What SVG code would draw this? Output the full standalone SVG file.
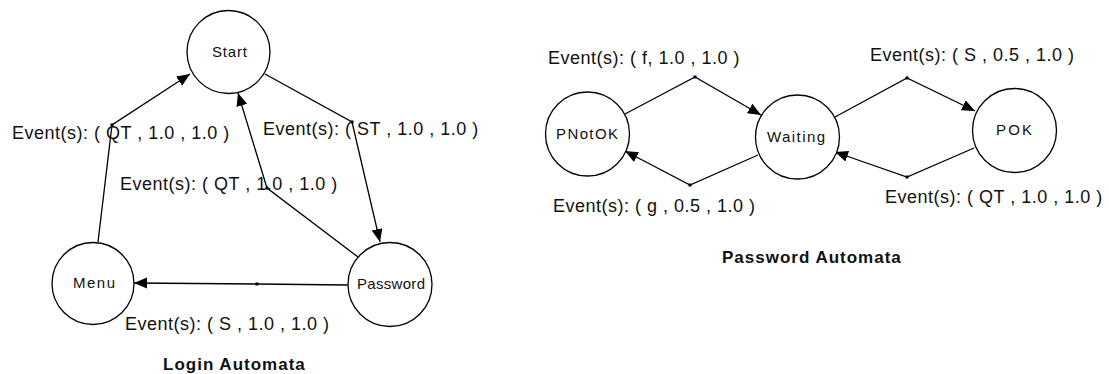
<svg xmlns="http://www.w3.org/2000/svg" width="1109" height="374" viewBox="0 0 1109 374">
<style>
.node{fill:#fff;stroke:#000;stroke-width:1.3}
.nlabel{font-family:"Liberation Sans",Arial,sans-serif;font-size:15px;fill:#111}
.edge{fill:none;stroke:#000;stroke-width:1.3;marker-end:url(#arr);marker-mid:url(#dot)}
.elabel{font-family:"Liberation Sans",Arial,sans-serif;font-size:18px;letter-spacing:0.5px;fill:#111}
.title{font-family:"Liberation Sans",Arial,sans-serif;font-size:17px;font-weight:bold;letter-spacing:1px;fill:#111}
</style>
<defs>
<marker id="arr" markerUnits="userSpaceOnUse" markerWidth="14" markerHeight="12" refX="13" refY="5.5" orient="auto">
<path d="M0,0 L13,5.5 L0,11 z" fill="#000"/>
</marker>
<marker id="dot" markerUnits="userSpaceOnUse" markerWidth="4" markerHeight="4" refX="2" refY="2">
<rect x="0.5" y="0.5" width="3" height="3" fill="#000"/>
</marker>
</defs>
<rect width="1109" height="374" fill="#fff"/>
<g id="connectors">
<polyline class="edge" points="98,242 112,125 190,74"/>
<polyline class="edge" points="265,74 352,122 380,242"/>
<polyline class="edge" points="358,257 267,188 238,93"/>
<polyline class="edge" points="348,285 257,284 134,283"/>
<polyline class="edge" points="625,114 695,77 761,115"/>
<polyline class="edge" points="758,155 690,185 625,151"/>
<polyline class="edge" points="835,117 907,78 975,111"/>
<polyline class="edge" points="974,148 907,177 835,152"/>
</g>
<g id="node-start">
<circle class="node" cx="228.5" cy="52" r="41.5"/>
<text class="nlabel" x="212" y="57" textLength="35">Start</text>
</g>
<g id="node-menu">
<circle class="node" cx="93" cy="283.5" r="41"/>
<text class="nlabel" x="73" y="288" textLength="42">Menu</text>
</g>
<g id="node-password">
<circle class="node" cx="390" cy="284.5" r="42"/>
<text class="nlabel" x="357" y="289" textLength="68">Password</text>
</g>
<g id="node-pnotok">
<circle class="node" cx="587.5" cy="134" r="42"/>
<text class="nlabel" x="556" y="139" textLength="62">PNotOK</text>
</g>
<g id="node-waiting">
<circle class="node" cx="797.5" cy="137" r="42"/>
<text class="nlabel" x="767" y="142" textLength="58">Waiting</text>
</g>
<g id="node-pok">
<circle class="node" cx="1014.5" cy="130.5" r="42"/>
<text class="nlabel" x="996" y="135" textLength="36">POK</text>
</g>
<g id="labels">
<text class="elabel" x="12" y="139">Event(s): ( QT , 1.0 , 1.0 )</text>
<text class="elabel" x="263" y="135">Event(s): ( ST , 1.0 , 1.0 )</text>
<text class="elabel" x="120" y="190">Event(s): ( QT , 1.0 , 1.0 )</text>
<text class="elabel" x="125" y="330">Event(s): ( S , 1.0 , 1.0 )</text>
<text class="title" x="163" y="370">Login Automata</text>
<text class="elabel" x="548" y="64">Event(s): ( f, 1.0 , 1.0 )</text>
<text class="elabel" x="870" y="61">Event(s): ( S , 0.5 , 1.0 )</text>
<text class="elabel" x="553" y="212">Event(s): ( g , 0.5 , 1.0 )</text>
<text class="elabel" x="885" y="203">Event(s): ( QT , 1.0 , 1.0 )</text>
<text class="title" x="722" y="263">Password Automata</text>
</g>
</svg>
